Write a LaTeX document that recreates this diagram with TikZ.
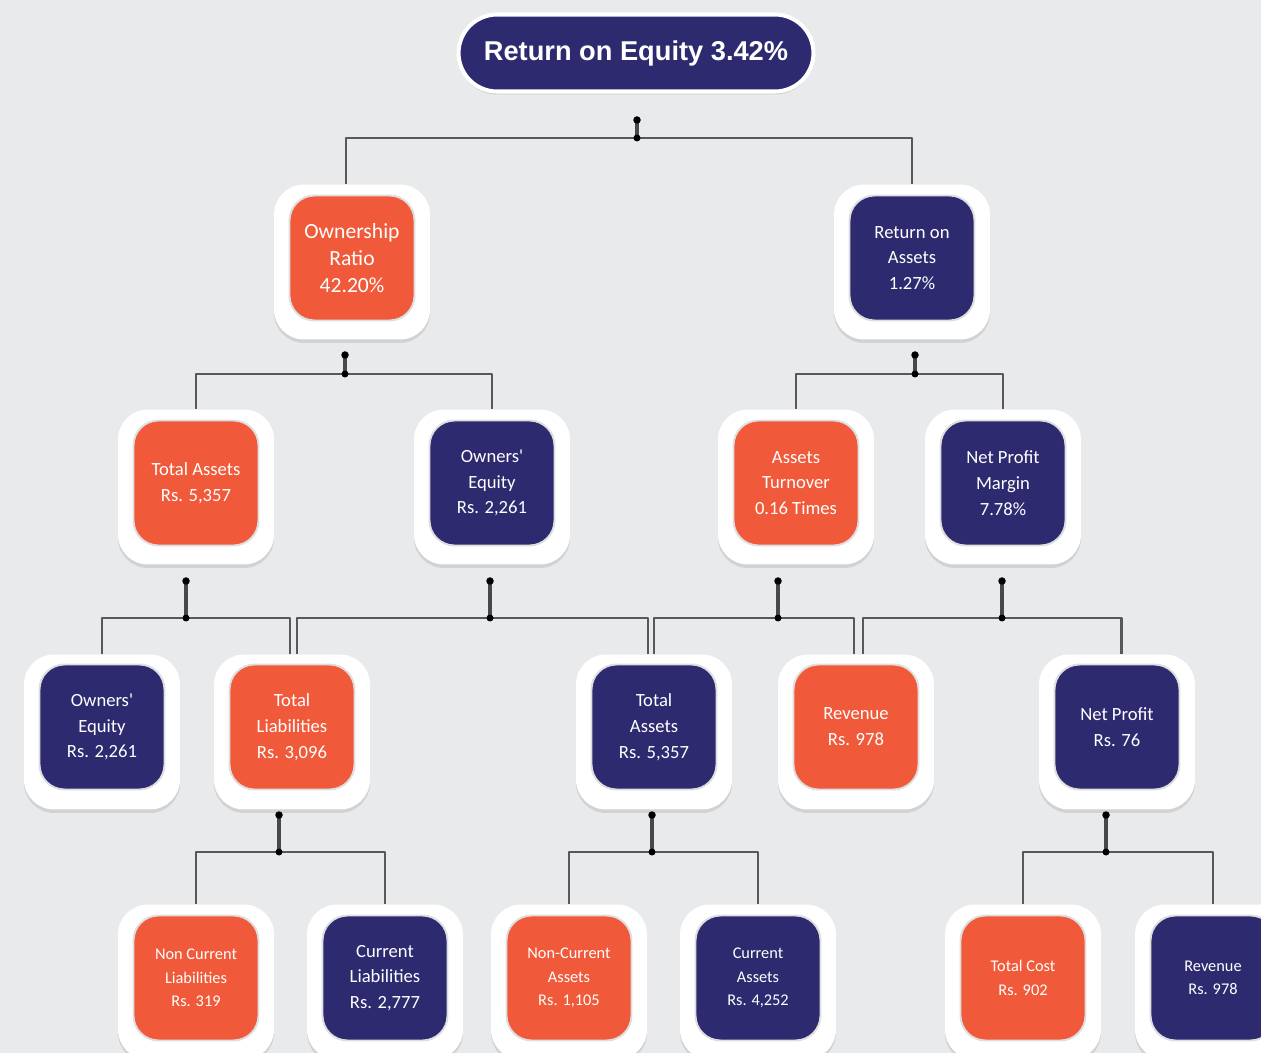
\documentclass[tikz,border=0pt]{standalone}
\usepackage{fontspec}
\setmainfont{Carlito}
\newfontfamily\headfont{Liberation Sans}
\usetikzlibrary{shadows}

\begin{document}
\begin{tikzpicture}[x=0.02cm, y=-0.02cm, line join=round,
	frame/.style={fill=white, rounded corners=0.6cm, minimum width=3.12cm, minimum height=3.1cm, inner sep=0pt,
		drop shadow={shadow xshift=0cm, shadow yshift=-0.07cm, opacity=0.10, fill=black}},
	tile/.style={rounded corners=0.5cm, minimum size=2.5cm, inner sep=0pt, text=white, align=center,
		draw=black!13, line width=1.1pt, font=\fontsize{10.6}{14.7}\selectfont},
	navy tile/.style={tile, fill=roenavy},
	orange tile/.style={tile, fill=roeorange},
	big/.style={font=\fontsize{12.3}{15.3}\selectfont},
	small/.style={font=\fontsize{9.3}{13.3}\selectfont},
	headline/.style={fill=roenavy, draw=white, line width=2.3pt, rounded corners=0.77cm, minimum width=7.1cm,
		minimum height=1.54cm, text=white, font=\headfont\bfseries\fontsize{15.5}{18}\selectfont,
		drop shadow={shadow xshift=0cm, shadow yshift=-0.06cm, opacity=0.12, fill=black}},
	link/.style={draw=linkgray, line width=1.4pt},
	stub/.style={draw=stubgray, line width=2.6pt, line cap=round}]
			\definecolor{roenavy}{RGB}{46, 42, 111}
			\definecolor{roeorange}{RGB}{240, 90, 58}
			\definecolor{linkgray}{RGB}{88, 88, 90}
			\definecolor{stubgray}{RGB}{72, 72, 74}
			\definecolor{paper}{RGB}{233, 234, 235}
			\fill[paper] (0, 0) rectangle (1261, 1053);
			\useasboundingbox (0, 0) rectangle (1261, 1053);
			\node[headline] (roe) at (636, 53) {Return on Equity 3.42\%};
			\node[frame] (ownF) at (352, 262) {};
			\node[orange tile, big] (own) at (352, 258) {Ownership\\Ratio\\42.20\%};
			\node[frame] (roaF) at (912, 262) {};
			\node[navy tile] (roa) at (912, 258) {Return on\\Assets\\1.27\%};
			\node[frame] (taF) at (196, 487) {};
			\node[orange tile] (ta) at (196, 483) {Total Assets\\Rs. 5,357};
			\node[frame] (oeF) at (492, 487) {};
			\node[navy tile] (oe) at (492, 483) {Owners\textquotesingle\\Equity\\Rs. 2,261};
			\node[frame] (atF) at (796, 487) {};
			\node[orange tile] (at) at (796, 483) {Assets\\Turnover\\0.16 Times};
			\node[frame] (npmF) at (1003, 487) {};
			\node[navy tile] (npm) at (1003, 483) {Net Profit\\Margin\\7.78\%};
			\node[frame] (oe2F) at (102, 732) {};
			\node[navy tile] (oe2) at (102, 727) {Owners\textquotesingle\\Equity\\Rs. 2,261};
			\node[frame] (tlF) at (292, 732) {};
			\node[orange tile] (tl) at (292, 727) {Total\\Liabilities\\Rs. 3,096};
			\node[frame] (ta2F) at (654, 732) {};
			\node[navy tile] (ta2) at (654, 727) {Total\\Assets\\Rs. 5,357};
			\node[frame] (revF) at (856, 732) {};
			\node[orange tile] (rev) at (856, 727) {Revenue\\Rs. 978};
			\node[frame] (npF) at (1117, 732) {};
			\node[navy tile] (np) at (1117, 727) {Net Profit\\Rs. 76};
			\node[frame] (nclF) at (196, 982) {};
			\node[orange tile, small] (ncl) at (196, 978) {Non Current\\Liabilities\\Rs. 319};
			\node[frame] (clF) at (385, 982) {};
			\node[navy tile] (cl) at (385, 978) {Current\\Liabilities\\Rs. 2,777};
			\node[frame] (ncaF) at (569, 982) {};
			\node[orange tile, small] (nca) at (569, 978) {Non-Current\\Assets\\Rs. 1,105};
			\node[frame] (caF) at (758, 982) {};
			\node[navy tile, small] (ca) at (758, 978) {Current\\Assets\\Rs. 4,252};
			\node[frame] (tcF) at (1023, 982) {};
			\node[orange tile, small] (tc) at (1023, 978) {Total Cost\\Rs. 902};
			\node[frame] (rev2F) at (1213, 982) {};
			\node[navy tile, small] (rev2) at (1213, 978) {Revenue\\Rs. 978};
			\coordinate (d0) at (637, 120);
			\coordinate (j0) at (637, 138);
			\coordinate (d1a) at (345, 355);
			\coordinate (j1a) at (345, 374);
			\coordinate (d1b) at (915, 355);
			\coordinate (j1b) at (915, 374);
			\coordinate (d2a) at (186, 581);
			\coordinate (j2a) at (186, 618);
			\coordinate (d2b) at (490, 581);
			\coordinate (j2b) at (490, 618);
			\coordinate (d2c) at (778, 581);
			\coordinate (j2c) at (778, 618);
			\coordinate (d2d) at (1002, 581);
			\coordinate (j2d) at (1002, 618);
			\coordinate (d3a) at (279, 815);
			\coordinate (j3a) at (279, 852);
			\coordinate (d3b) at (652, 815);
			\coordinate (j3b) at (652, 852);
			\coordinate (d3c) at (1106, 815);
			\coordinate (j3c) at (1106, 852);
			\draw[link] ([xshift=-0.12cm]ownF.north) |- (j0) -| (roaF.north);
			\draw[link] (taF.north) |- (j1a) -| (oeF.north);
			\draw[link] (atF.north) |- (j1b) -| (npmF.north);
			\draw[link] (oe2F.north) |- (j2a) -| ([xshift=-0.04cm]tlF.north);
			\draw[link] ([xshift=0.1cm]tlF.north) |- (j2b) -| ([xshift=-0.12cm]ta2F.north);
			\draw[link] (ta2F.north) |- (j2c) -| ([xshift=-0.04cm]revF.north);
			\draw[link] ([xshift=0.14cm]revF.north) |- (j2d) -| ([xshift=0.09cm]npF.north);
			\draw[link] (nclF.north) |- (j3a) -| (clF.north);
			\draw[link] (ncaF.north) |- (j3b) -| (caF.north);
			\draw[link] (tcF.north) |- (j3c) -| (rev2F.north);
			\foreach \g in {0, 1a, 1b, 2a, 2b, 2c, 2d, 3a, 3b, 3c} {
				\draw[stub] (d\g) -- (j\g);
				\fill (d\g) circle[radius=0.075cm] (j\g) circle[radius=0.07cm];
			}
		\end{tikzpicture}
\end{document}
